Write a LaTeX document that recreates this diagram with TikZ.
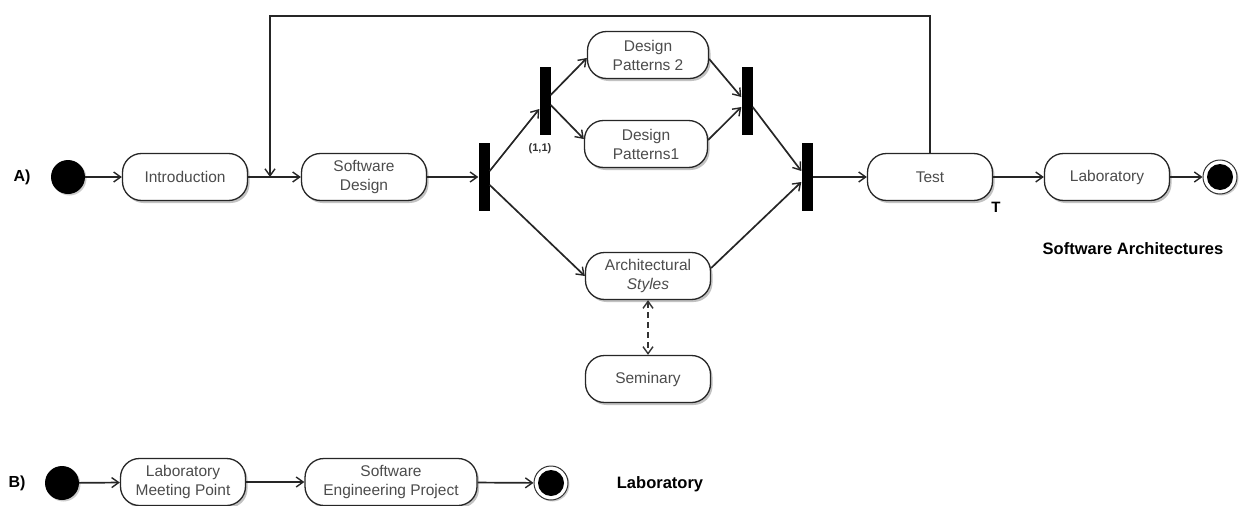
\documentclass[tikz,border=0pt]{standalone}
\usepackage{fontspec}
\setmainfont{Liberation Sans}
\usetikzlibrary{arrows.meta,shadows,calc}
\begin{document}
\begin{tikzpicture}[x=1pt,y=-1pt,
  act/.style={draw=black!85, line width=1.3pt, fill=white, rounded corners=19pt,
    minimum width=125pt, minimum height=47pt, align=center, inner sep=2pt,
    font=\fontsize{15.5}{19}\selectfont, text=black!70,
    drop shadow={shadow xshift=2pt, shadow yshift=-2.5pt, fill=black!40, opacity=0.6}},
  bar/.style={fill=black, draw=none, minimum width=11pt, minimum height=68pt, inner sep=0pt},
  initial/.style={circle, fill=black, minimum size=34pt, inner sep=0pt,
    drop shadow={shadow xshift=1.5pt, shadow yshift=-1.5pt, fill=black!40}},
  final/.style={circle, draw=black!80, line width=1pt, fill=white, minimum size=34pt, inner sep=0pt,
    path picture={\fill[black] (path picture bounding box.center) circle (13pt);},
    drop shadow={shadow xshift=1.5pt, shadow yshift=-1.5pt, fill=black!40}},
  arr/.style={-{Straight Barb[length=7pt,width=10pt,line width=1.4pt]}, line width=1.7pt, draw=black!85},
  dasharr/.style={{Straight Barb[length=7pt,width=10pt,line width=1.4pt]}-{Straight Barb[length=7pt,width=10pt,line width=1.4pt]},
    line width=1.7pt, draw=black!80, dash pattern=on 6pt off 4pt},
  tag/.style={font=\fontsize{16}{18}\selectfont\bfseries, inner sep=0pt},
  title/.style={font=\fontsize{16.5}{18}\selectfont\bfseries, inner sep=0pt}
]
\path[use as bounding box] (0,0) rectangle (1248,506);

% ---- Workflow A: Software Architectures ----
\node[tag] (la) at (22,177) {A)};
\node[initial] (sa) at (68,177) {};
\node[act] (intro) at (185,177) {Introduction};
\node[act] (sd) at (364,177) {Software\\Design};
\node[bar] (f1) at (484,177) {};
\node[bar] (f2) at (545,101) {};
\node[font=\fontsize{11}{12}\selectfont\bfseries, text=black!80] (card) at (540,149) {(1,1)};
\node[act, minimum width=121pt] (dp2) at (648,55) {Design\\Patterns 2};
\node[act, minimum width=123pt] (dp1) at (646,144) {Design\\Patterns1};
\node[bar] (j1) at (747,101) {};
\node[bar] (j2) at (807,177) {};
\node[act] (arch) at (648,276) {Architectural\\\textit{Styles}};
\node[act] (sem) at (648,379) {Seminary};
\node[act] (test) at (930,177) {Test};
\node[font=\fontsize{15}{16}\selectfont\bfseries] (tl) at (996,207) {T};
\node[act] (lab) at (1107,177) {Laboratory};
\node[final] (ea) at (1220,177) {};
\node[title] (ta) at (1133,249) {Software Architectures};

\coordinate (merge) at (270,177);
\coordinate (topline) at (0,16);

\draw[arr] (sa) -- (intro);
\draw[arr] (intro) -- (sd);
\draw[arr] (sd) -- (f1);
\draw[arr] ($(f1.east)+(0,-6)$) -- ($(f2.west)+(0,8)$);
\draw[arr] ($(f1.east)+(0,8)$) -- (arch.west);
\draw[arr] ($(f2.east)+(0,-6)$) -- ($(dp2.west)+(0,3)$);
\draw[arr] ($(f2.east)+(0,4)$) -- ($(dp1.west)+(0,-5)$);
\draw[arr] ($(dp2.east)+(0,4)$) -- ($(j1.west)+(0,-4)$);
\draw[arr] ($(dp1.east)+(0,-4)$) -- ($(j1.west)+(0,6)$);
\draw[arr] ($(j1.east)+(0,6)$) -- ($(j2.west)+(0,-6)$);
\draw[arr] ($(arch.east)+(0,-8)$) -- ($(j2.west)+(0,5)$);
\draw[arr] (j2) -- (test);
\draw[dasharr] (arch) -- (sem);
\draw[arr] (test) -- (lab);
\draw[arr] (lab) -- (ea);
% feedback loop from Test back before Software Design
\draw[arr] (test.north) -- (test.north |- topline) -| (merge);

% ---- Workflow B: Laboratory ----
\node[tag] (lb) at (17,483) {B)};
\node[initial] (sb) at (62,483) {};
\node[act] (lmp) at (183,482) {Laboratory\\Meeting Point};
\node[act, minimum width=172pt] (sep) at (391,482) {Software\\Engineering Project};
\node[final] (eb) at (551,483) {};
\node[title] (tb) at (660,484) {Laboratory};

\draw[arr] (sb) -- (lmp);
\draw[arr] (lmp) -- (sep);
\draw[arr] (sep) -- (eb);
\end{tikzpicture}
\end{document}
